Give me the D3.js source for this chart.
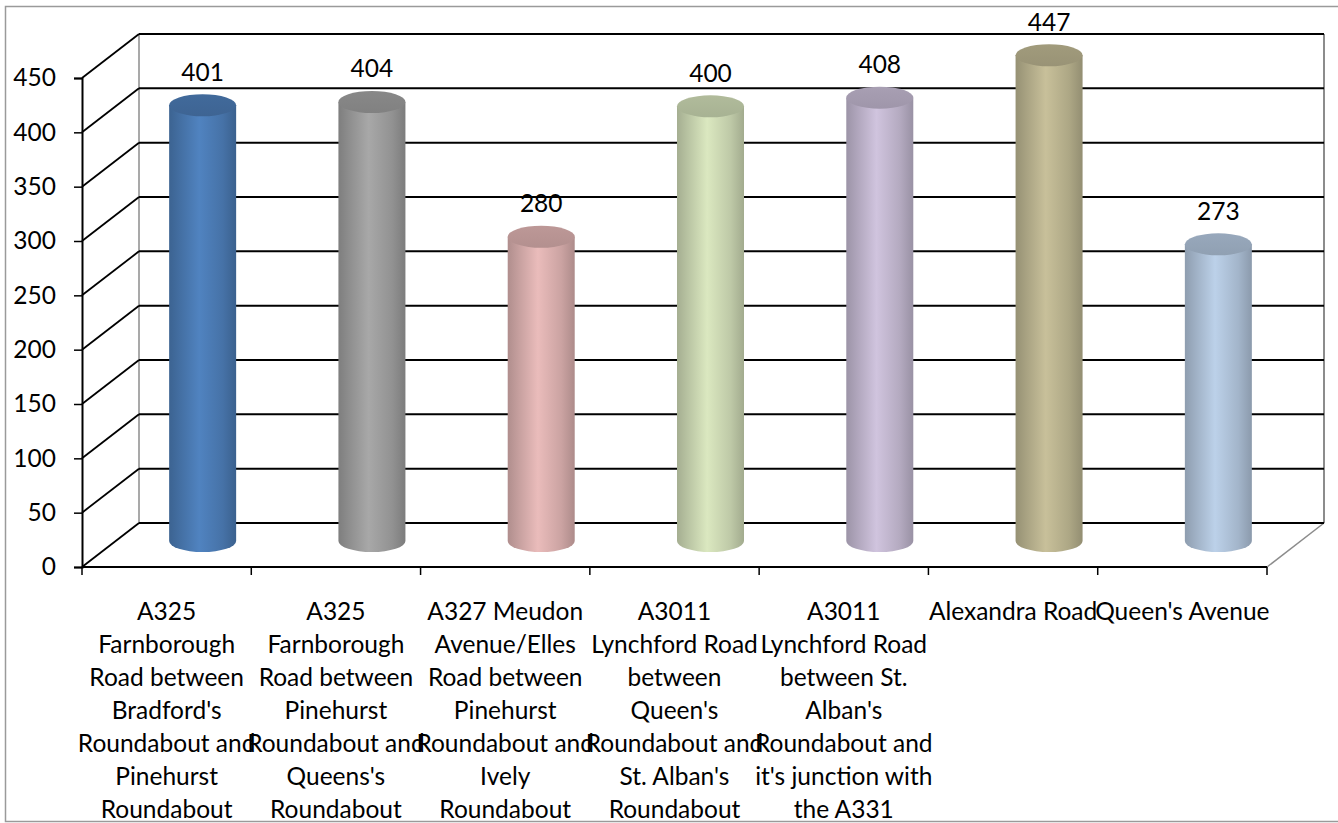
<!DOCTYPE html>
<html>
<head>
<meta charset="utf-8">
<script src="https://cdn.jsdelivr.net/npm/d3@7"></script>
<style>
html,body{margin:0;padding:0;background:#fff;}
svg{display:block;}
text{font-family:"Lato","Liberation Sans",sans-serif;fill:#000;}
</style>
</head>
<body>
<svg id="chart" width="1338" height="823"></svg>
<script>
// ---- data ----
const categories = [
  "A325 Farnborough Road between Bradford's Roundabout and Pinehurst Roundabout",
  "A325 Farnborough Road between Pinehurst Roundabout and Queens's Roundabout",
  "A327 Meudon Avenue/Elles Road between Pinehurst Roundabout and Ively Roundabout",
  "A3011 Lynchford Road between Queen's Roundabout and St. Alban's Roundabout",
  "A3011 Lynchford Road between St. Alban's Roundabout and it's junction with the A331",
  "Alexandra Road",
  "Queen's Avenue"
];
const categoryLines = [
  ["A325","Farnborough","Road between","Bradford's","Roundabout and","Pinehurst","Roundabout"],
  ["A325","Farnborough","Road between","Pinehurst","Roundabout and","Queens's","Roundabout"],
  ["A327 Meudon","Avenue/Elles","Road between","Pinehurst","Roundabout and","Ively","Roundabout"],
  ["A3011","Lynchford Road","between","Queen's","Roundabout and","St. Alban's","Roundabout"],
  ["A3011","Lynchford Road","between St.","Alban's","Roundabout and","it's junction with","the A331"],
  ["Alexandra Road"],
  ["Queen's Avenue"]
];
const values = [401, 404, 280, 400, 408, 447, 273];
const barColors = ["#4F81BD","#A5A5A5","#E6B9B8","#D7E4BD","#CCC1DA","#C4BD97","#B9CDE5"];
const yTicks = [0,50,100,150,200,250,300,350,400,450];

// ---- layout ----
const svg = d3.select("#chart");
const X0 = 82, X1 = 1267, Y0 = 567, Y1 = 78;
const DX = 57, DY = -44;          // depth offset of the back wall
const CDX = 36, CDY = -26;        // cylinder centre depth offset
const RX = 33.5, RY = 11;
const FS = 24.5;

const x = d3.scaleBand().domain(categories).range([X0, X1]).padding(0);
const y = d3.scaleLinear().domain([0, 450]).range([Y0, Y1]);

// outer frame
svg.append("rect").attr("x",5.5).attr("y",6.5).attr("width",1340).attr("height",815)
  .attr("fill","none").attr("stroke","#9a9a9a").attr("stroke-width",1.5);

const grid = svg.append("g");
// back wall verticals (gray)
grid.append("line").attr("x1",X0+DX).attr("x2",X0+DX).attr("y1",y(450)+DY).attr("y2",y(0)+DY)
  .attr("stroke","#8c8c8c").attr("stroke-width",1.5);
grid.append("line").attr("x1",X1+DX).attr("x2",X1+DX).attr("y1",y(450)+DY).attr("y2",y(0)+DY)
  .attr("stroke","#8c8c8c").attr("stroke-width",2);
// floor right diagonal (gray)
grid.append("line").attr("x1",X1).attr("y1",y(0)).attr("x2",X1+DX).attr("y2",y(0)+DY)
  .attr("stroke","#8c8c8c").attr("stroke-width",1.5);

// gridlines: side wall diagonals + back wall horizontals
yTicks.forEach(v => {
  grid.append("line").attr("x1",X0).attr("y1",y(v)).attr("x2",X0+DX).attr("y2",y(v)+DY)
    .attr("stroke","#000").attr("stroke-width",1.8);
  grid.append("line").attr("x1",X0+DX).attr("y1",y(v)+DY).attr("x2",X1+DX).attr("y2",y(v)+DY)
    .attr("stroke","#000").attr("stroke-width",2);
});

// front floor line + category ticks
svg.append("line").attr("x1",X0).attr("x2",X1).attr("y1",Y0).attr("y2",Y0)
  .attr("stroke","#000").attr("stroke-width",2);
const catTicks = categories.map(c => x(c)).concat([X1]);
svg.selectAll(".ctick").data(catTicks).enter().append("line")
  .attr("x1",d=>d).attr("x2",d=>d).attr("y1",Y0).attr("y2",Y0+8)
  .attr("stroke","#000").attr("stroke-width",1.5);

// y axis
const yAxis = svg.append("g").attr("transform",`translate(${X0},0)`)
  .call(d3.axisLeft(y).tickValues(yTicks).tickSize(8).tickPadding(18));
yAxis.select(".domain").attr("stroke","#000").attr("stroke-width",2);
yAxis.selectAll(".tick line").attr("stroke","#000").attr("stroke-width",1.5);
yAxis.selectAll(".tick text").attr("font-size",FS).attr("font-family","Lato, 'Liberation Sans', sans-serif").attr("fill","#000");

// defs for gradients
const defs = svg.append("defs");
barColors.forEach((c,i) => {
  const base = d3.color(c);
  const g = defs.append("linearGradient").attr("id","side"+i).attr("x1","0%").attr("x2","100%");
  g.append("stop").attr("offset","0%").attr("stop-color",base.darker(0.75));
  g.append("stop").attr("offset","15%").attr("stop-color",base.darker(0.45));
  g.append("stop").attr("offset","45%").attr("stop-color",base.brighter(0.05));
  g.append("stop").attr("offset","80%").attr("stop-color",base.darker(0.35));
  g.append("stop").attr("offset","100%").attr("stop-color",base.darker(0.8));
  const t = defs.append("linearGradient").attr("id","top"+i).attr("x1","0%").attr("x2","0%").attr("y1","0%").attr("y2","100%");
  t.append("stop").attr("offset","0%").attr("stop-color",base.darker(0.55));
  t.append("stop").attr("offset","100%").attr("stop-color",base.darker(0.7));
});

// cylinders
const bars = svg.selectAll(".bar").data(values).enter().append("g").attr("class","bar");
bars.each(function(v,i){
  const g = d3.select(this);
  const cx = x(categories[i]) + x.bandwidth()/2 + CDX;
  const yb = y(0) + CDY;
  const yt = y(v) + CDY;
  g.append("path")
    .attr("d",`M${cx-RX},${yt} L${cx-RX},${yb} A${RX},${RY} 0 0 0 ${cx+RX},${yb} L${cx+RX},${yt} Z`)
    .attr("fill",`url(#side${i})`);
  g.append("ellipse").attr("cx",cx).attr("cy",yt).attr("rx",RX).attr("ry",RY)
    .attr("fill",`url(#top${i})`);
  g.append("text").attr("x",cx).attr("y",yt-34).attr("text-anchor","middle")
    .attr("dominant-baseline","central").attr("font-size",FS).text(v);
});

// category labels
const lbl = svg.append("g");
categoryLines.forEach((lines,i) => {
  const cx = x(categories[i]) + x.bandwidth()/2;
  const t = lbl.append("text").attr("text-anchor","middle").attr("font-size",FS);
  lines.forEach((s,j) => {
    t.append("tspan").attr("x",cx).attr("y",610 + j*33).attr("dominant-baseline","central").text(s);
  });
});
</script>
</body>
</html>
